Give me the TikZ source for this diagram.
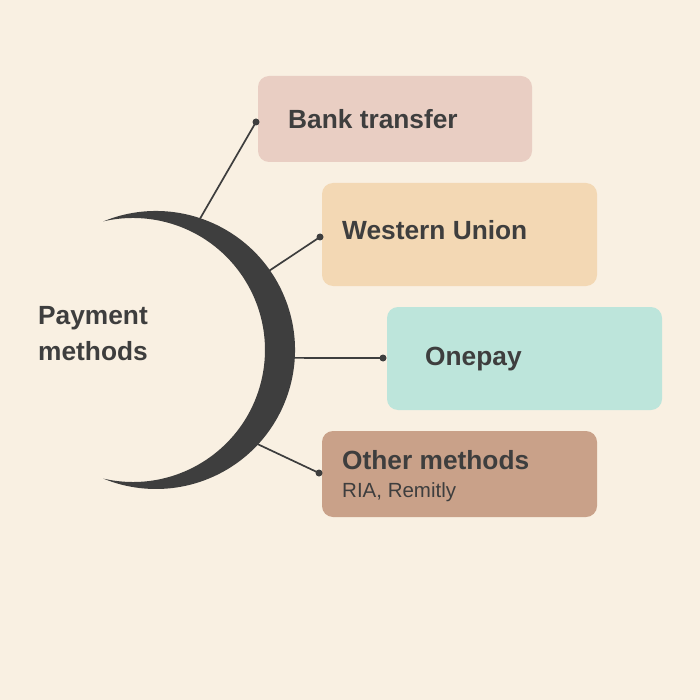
\documentclass[tikz,border=0pt]{standalone}
\usepackage{fontspec}
\setmainfont{Liberation Sans}
\usetikzlibrary{calc}
\definecolor{bgc}{HTML}{F9F0E2}
\definecolor{bankc}{HTML}{E9CEC3}
\definecolor{westc}{HTML}{F3D8B4}
\definecolor{onec}{HTML}{BDE5DB}
\definecolor{otherc}{HTML}{C9A189}
\definecolor{darkc}{HTML}{3E3E3E}
\tikzset{
  box/.style={rounded corners=11pt, inner sep=0pt, draw=none},
  lbl/.style={anchor=west, inner sep=0pt, text=darkc, font=\fontsize{26.3}{28}\selectfont\bfseries},
  sublbl/.style={anchor=west, inner sep=0pt, text=darkc, font=\fontsize{20.5}{22}\selectfont},
  conn/.style={draw=darkc, line width=1.7pt},
  dotc/.style={circle, fill=darkc, inner sep=0pt, minimum size=7pt},
}
\begin{document}
\begin{tikzpicture}[x=1pt,y=1pt]
\fill[bgc] (0,0) rectangle (700,-700);
\useasboundingbox (0,0) rectangle (700,-700);
% boxes
\fill[bankc, box] (258,-76) rectangle (532,-162);
\fill[westc, box] (322,-183) rectangle (597,-286);
\fill[onec, box] (387,-307) rectangle (662,-410);
\fill[otherc, box] (322,-431) rectangle (597,-517);
% crescent
\coordinate (oc) at (156,-350);
\fill[darkc] (oc) ++(112.3:139) arc[start angle=112.3, end angle=-112.3, radius=139]
  arc[start angle=-103, end angle=103, radius=132] -- cycle;
% connector ends
\coordinate (s1) at ($(oc)+(71.6:137)$);
\coordinate (s2) at ($(oc)+(35:137)$);
\coordinate (s3) at ($(oc)+(-3.3:137)$);
\coordinate (s4) at ($(oc)+(-43:137)$);
\node[dotc] (d1) at (256,-122) {};
\node[dotc] (d2) at (320,-237) {};
\node[dotc] (d3) at (383,-358) {};
\node[dotc] (d4) at (319,-473) {};
\draw[conn] (s1) -- (d1.center);
\draw[conn] (s2) -- (d2.center);
\draw[conn] (s3) -- (d3.center);
\draw[conn] (s4) -- (d4.center);
% labels
\node[lbl] (pm1) at (38,-318) {Payment};
\node[lbl] (pm2) at (38,-351) {methods};
\node[lbl] (t1) at (288,-119) {Bank transfer};
\node[lbl] (t2) at (342,-230) {Western Union};
\node[lbl] (t3) at (425,-359) {Onepay};
\node[lbl] (t4) at (342,-460) {Other methods};
\node[sublbl] (t5) at (342,-492) {RIA, Remitly};
\end{tikzpicture}
\end{document}
